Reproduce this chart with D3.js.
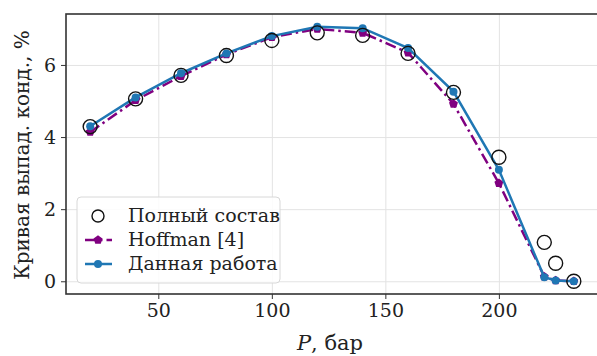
<!DOCTYPE html>
<html>
<head>
<meta charset="utf-8">
<script src="https://cdn.jsdelivr.net/npm/d3@7"></script>
<style>
  body { margin: 0; background: #fff; }
  svg { display: block; }
  .grid line { stroke: #e3e3e3; stroke-width: 1; }
  .grid path { display: none; }
  .axis path { display: none; }
  .axis line { stroke: #333; stroke-width: 1; }
</style>
</head>
<body>
<svg width="597" height="356"></svg>
<script>
// pressures, bar
const pressure = [20, 40, 60, 80, 100, 120, 140, 160, 180, 200, 220, 225, 233];

// liquid dropout curve, %
const fullComposition = [4.29, 5.06, 5.71, 6.26, 6.68, 6.89, 6.82, 6.32, 5.24, 3.44, 1.08, 0.50, 0.00];
const hoffman = [4.14, 5.02, 5.69, 6.29, 6.77, 7.00, 6.89, 6.34, 4.92, 2.72, 0.13, 0.02, 0.00];
const thisWork = [4.30, 5.10, 5.77, 6.32, 6.80, 7.06, 7.02, 6.47, 5.26, 3.09, 0.11, 0.02, 0.00];

const xTicks = [50, 100, 150, 200];
const yTicks = [0, 2, 4, 6];

const legendLabels = ['Полный состав', 'Hoffman [4]', 'Данная работа'];

const FONT = "'DejaVu Serif', 'Liberation Serif', serif";

const margin = { top: 14, right: -1, bottom: 62, left: 66 };

const svg = d3.select('svg');
const W = +svg.attr('width');
const H = +svg.attr('height');
const width = W - margin.left - margin.right;
const height = H - margin.top - margin.bottom;

const g = svg.append('g')
  .attr('transform', `translate(${margin.left},${margin.top})`);

// 5% padding like matplotlib autoscale
const xPad = (d3.max(pressure) - d3.min(pressure)) * 0.05;
const yMax = d3.max(thisWork);
const yPad = yMax * 0.05;

const x = d3.scaleLinear()
  .domain([d3.min(pressure) - xPad, d3.max(pressure) + xPad])
  .range([0, width]);

const y = d3.scaleLinear()
  .domain([0 - yPad, yMax + yPad])
  .range([height, 0]);

// grid
g.append('g')
  .attr('class', 'grid')
  .attr('transform', `translate(0,${height})`)
  .call(d3.axisBottom(x).tickValues(xTicks).tickSize(-height).tickFormat(() => ''));

g.append('g')
  .attr('class', 'grid')
  .call(d3.axisLeft(y).tickValues(yTicks).tickSize(-width).tickFormat(() => ''));

// axes
const xAxis = g.append('g')
  .attr('class', 'x axis')
  .attr('transform', `translate(0,${height})`)
  .call(d3.axisBottom(x).tickValues(xTicks).tickSize(5).tickPadding(5));

const yAxis = g.append('g')
  .attr('class', 'y axis')
  .call(d3.axisLeft(y).tickValues(yTicks).tickSize(5).tickPadding(5));

[xAxis, yAxis].forEach(a => {
  a.attr('font-family', null).attr('font-size', null);
  a.selectAll('text')
    .style('font-family', FONT)
    .attr('font-size', 19)
    .attr('fill', '#222');
});
yAxis.selectAll('text').attr('dy', '0.35em');

// frame
g.append('rect')
  .attr('width', width)
  .attr('height', height)
  .attr('fill', 'none')
  .attr('stroke', '#333')
  .attr('stroke-width', 1.6);

const rows = pressure.map((p, i) => ({ p, full: fullComposition[i], hof: hoffman[i], ours: thisWork[i] }));

const line = key => d3.line()
  .x(d => x(d.p))
  .y(d => y(d[key]));

const pentagon = d3.symbol().type({
  draw(ctx, size) {
    const r = Math.sqrt(size);
    for (let k = 0; k < 5; k++) {
      const a = -Math.PI / 2 + k * 2 * Math.PI / 5;
      k === 0 ? ctx.moveTo(r * Math.cos(a), r * Math.sin(a)) : ctx.lineTo(r * Math.cos(a), r * Math.sin(a));
    }
    ctx.closePath();
  }
}).size(22);

// Hoffman
g.append('path')
  .datum(rows)
  .attr('d', line('hof'))
  .attr('fill', 'none')
  .attr('stroke', 'purple')
  .attr('stroke-width', 2.5)
  .attr('stroke-dasharray', '11,4,2.5,4');

g.append('g').selectAll('path')
  .data(rows)
  .enter()
  .append('path')
  .attr('d', pentagon)
  .attr('transform', d => `translate(${x(d.p)},${y(d.hof)})`)
  .attr('fill', 'purple');

// this work
g.append('path')
  .datum(rows)
  .attr('d', line('ours'))
  .attr('fill', 'none')
  .attr('stroke', '#1f77b4')
  .attr('stroke-width', 2.5);

g.append('g').selectAll('circle')
  .data(rows)
  .enter()
  .append('circle')
  .attr('cx', d => x(d.p))
  .attr('cy', d => y(d.ours))
  .attr('r', 4)
  .attr('fill', '#1f77b4');

// full composition
g.append('g').selectAll('circle')
  .data(rows)
  .enter()
  .append('circle')
  .attr('cx', d => x(d.p))
  .attr('cy', d => y(d.full))
  .attr('r', 7)
  .attr('fill', 'none')
  .attr('stroke', '#111')
  .attr('stroke-width', 1.4);

// axis labels
const xl = svg.append('text')
  .attr('x', 330)
  .attr('y', 350)
  .attr('text-anchor', 'middle')
  .style('font-family', FONT)
  .attr('font-size', 21)
  .attr('fill', '#222');
xl.append('tspan').attr('font-style', 'italic').text('P');
xl.append('tspan').text(', бар');

svg.append('text')
  .attr('transform', 'translate(29,155) rotate(-90)')
  .attr('text-anchor', 'middle')
  .style('font-family', FONT)
  .attr('font-size', 20)
  .attr('fill', '#222')
  .text('Кривая выпад. конд., %');

// legend
const lg = svg.append('g').attr('transform', 'translate(77,197)');
lg.append('rect')
  .attr('width', 203)
  .attr('height', 86)
  .attr('rx', 4)
  .attr('fill', 'white')
  .attr('fill-opacity', 0.85)
  .attr('stroke', '#d8d8d8');

const rowY = [19, 43, 67];
const items = lg.selectAll('g.item')
  .data(legendLabels)
  .enter()
  .append('g')
  .attr('class', 'item')
  .attr('transform', (d, i) => `translate(0,${rowY[i]})`);

items.append('text')
  .attr('x', 51)
  .attr('y', 5.5)
  .style('font-family', FONT)
  .attr('font-size', 19)
  .attr('fill', '#222')
  .text(d => d);

const it0 = items.filter((d, i) => i === 0);
it0.append('circle').attr('cx', 21).attr('r', 6).attr('fill', 'none').attr('stroke', '#111').attr('stroke-width', 1.4);

const it1 = items.filter((d, i) => i === 1);
it1.append('line').attr('x1', 8).attr('x2', 35)
  .attr('stroke', 'purple').attr('stroke-width', 2.5).attr('stroke-dasharray', '11,4,2.5,4');
it1.append('path').attr('d', pentagon).attr('transform', 'translate(21,0)').attr('fill', 'purple');

const it2 = items.filter((d, i) => i === 2);
it2.append('line').attr('x1', 8).attr('x2', 35).attr('stroke', '#1f77b4').attr('stroke-width', 2.5);
it2.append('circle').attr('cx', 21).attr('r', 4).attr('fill', '#1f77b4');
</script>
</body>
</html>
